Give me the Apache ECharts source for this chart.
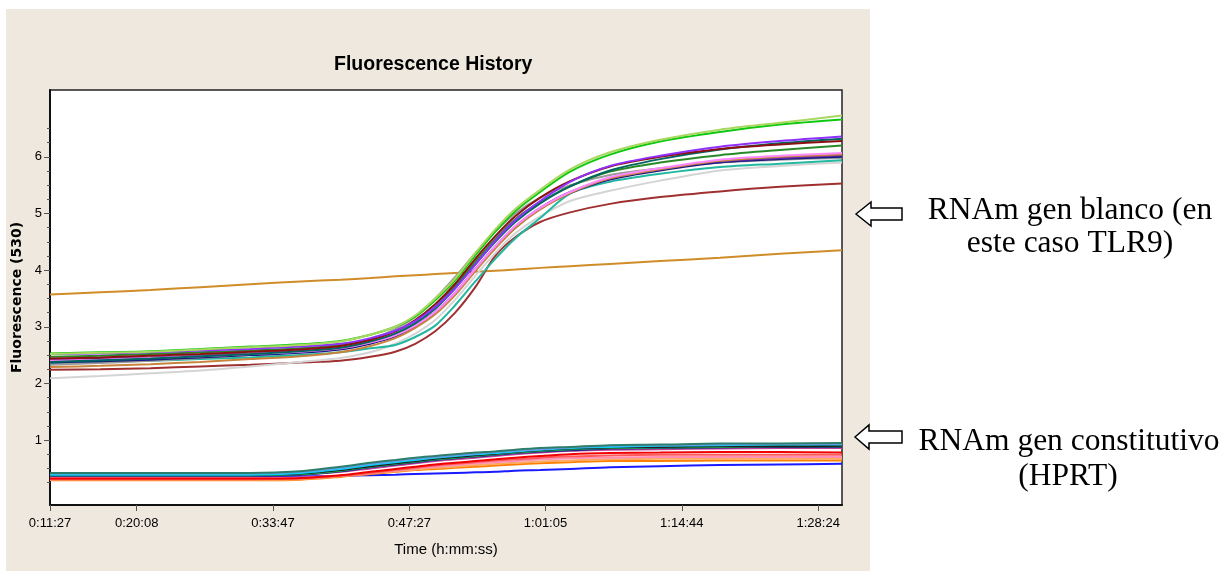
<!DOCTYPE html>
<html>
<head>
<meta charset="utf-8">
<script src="https://cdn.jsdelivr.net/npm/echarts@6/dist/echarts.min.js"></script>
<style>
  html, body { margin: 0; padding: 0; background: #fff; }
  #chart { width: 1231px; height: 571px; }
</style>
</head>
<body>
<div id="chart"></div>
<script>
// sample times (s) shared by every curve
const times = [687, 990, 1291, 1591, 1891, 2192, 2432, 2612, 2762, 2882, 3002, 3122, 3243, 3363, 3483, 3633, 3813, 4053, 4354, 4714, 5074, 5447]

// x axis tick positions (s) and y axis ticks
const xTickTimes = [687, 1208, 2027, 2847, 3665, 4484, 5304]
const yTickLabels = [1, 2, 3, 4, 5, 6]
const yMinorTicks = [0.25, 0.5, 0.75, 1, 1.25, 1.5, 1.75, 2, 2.25, 2.5, 2.75, 3, 3.25, 3.5, 3.75, 4, 4.25, 4.5, 4.75, 5, 5.25, 5.5, 5.75, 6, 6.25, 6.5]

// TLR9 (gen blanco)
const tlrLightGreen = [2.52, 2.54, 2.56, 2.6, 2.64, 2.68, 2.74, 2.86, 3.0, 3.2, 3.5, 3.85, 4.3, 4.72, 5.08, 5.42, 5.78, 6.08, 6.3, 6.48, 6.6, 6.73]
const tlrGreen = [2.53, 2.55, 2.57, 2.61, 2.65, 2.69, 2.75, 2.86, 3.0, 3.18, 3.47, 3.82, 4.26, 4.68, 5.04, 5.38, 5.74, 6.04, 6.27, 6.44, 6.57, 6.66]
const tlrPurple = [2.52, 2.53, 2.55, 2.58, 2.61, 2.65, 2.7, 2.8, 2.93, 3.1, 3.35, 3.68, 4.1, 4.52, 4.88, 5.22, 5.56, 5.84, 6.02, 6.18, 6.28, 6.36]
const tlrDarkRed = [2.44, 2.46, 2.49, 2.52, 2.56, 2.6, 2.66, 2.77, 2.92, 3.12, 3.4, 3.76, 4.2, 4.6, 4.95, 5.28, 5.57, 5.83, 6.0, 6.14, 6.22, 6.28]
const tlrDarkTeal = [2.38, 2.41, 2.44, 2.48, 2.52, 2.57, 2.63, 2.74, 2.88, 3.06, 3.32, 3.68, 4.1, 4.5, 4.85, 5.18, 5.48, 5.76, 5.96, 6.13, 6.24, 6.32]
const tlrForest = [2.47, 2.49, 2.52, 2.55, 2.58, 2.62, 2.68, 2.78, 2.92, 3.1, 3.36, 3.72, 4.15, 4.55, 4.9, 5.2, 5.48, 5.74, 5.9, 6.03, 6.12, 6.2]
const tlrPink = [2.4, 2.42, 2.45, 2.48, 2.52, 2.56, 2.62, 2.72, 2.85, 3.02, 3.26, 3.6, 4.02, 4.42, 4.78, 5.1, 5.38, 5.64, 5.8, 5.95, 6.02, 6.07]
const tlrPeru = [2.29, 2.31, 2.34, 2.38, 2.43, 2.48, 2.55, 2.66, 2.8, 2.98, 3.22, 3.56, 3.98, 4.38, 4.74, 5.07, 5.36, 5.62, 5.78, 5.93, 6.0, 6.04]
const tlrNavy = [2.37, 2.39, 2.42, 2.46, 2.5, 2.54, 2.6, 2.7, 2.83, 3.0, 3.24, 3.58, 4.0, 4.4, 4.75, 5.08, 5.36, 5.6, 5.76, 5.9, 5.96, 6.0]
const tlrViolet = [2.42, 2.44, 2.46, 2.49, 2.53, 2.57, 2.62, 2.72, 2.85, 3.02, 3.26, 3.6, 4.02, 4.42, 4.77, 5.1, 5.38, 5.62, 5.78, 5.92, 5.98, 6.03]
const tlrGray = [2.33, 2.36, 2.4, 2.45, 2.5, 2.56, 2.64, 2.78, 2.96, 3.18, 3.5, 3.88, 4.3, 4.68, 5.0, 5.28, 5.5, 5.68, 5.8, 5.9, 5.95, 5.98]
const tlrTeal = [2.36, 2.38, 2.4, 2.43, 2.46, 2.5, 2.55, 2.62, 2.68, 2.82, 3.02, 3.38, 3.8, 4.2, 4.56, 4.92, 5.35, 5.56, 5.7, 5.82, 5.88, 5.94]
const tlrLightGray = [2.09, 2.13, 2.18, 2.23, 2.3, 2.38, 2.45, 2.55, 2.7, 2.88, 3.12, 3.48, 3.9, 4.3, 4.65, 4.95, 5.22, 5.4, 5.58, 5.76, 5.84, 5.9]
const tlrBrown = [2.24, 2.25, 2.27, 2.3, 2.33, 2.37, 2.4, 2.47, 2.56, 2.7, 2.92, 3.25, 3.7, 4.25, 4.58, 4.85, 5.02, 5.17, 5.29, 5.39, 5.47, 5.53]
const tlrOrange = [3.57, 3.61, 3.65, 3.7, 3.75, 3.8, 3.83, 3.86, 3.89, 3.91, 3.93, 3.95, 3.97, 3.99, 4.01, 4.04, 4.07, 4.11, 4.16, 4.22, 4.29, 4.35]

// HPRT (gen constitutivo)
const hprtTeal = [0.42, 0.42, 0.42, 0.42, 0.42, 0.45, 0.53, 0.6, 0.65, 0.69, 0.72, 0.75, 0.78, 0.8, 0.83, 0.86, 0.88, 0.91, 0.92, 0.94, 0.94, 0.95]
const hprtCornflower = [0.41, 0.41, 0.41, 0.41, 0.41, 0.44, 0.51, 0.58, 0.63, 0.67, 0.7, 0.73, 0.76, 0.79, 0.81, 0.84, 0.87, 0.9, 0.91, 0.92, 0.93, 0.93]
const hprtCyan = [0.39, 0.39, 0.39, 0.39, 0.39, 0.42, 0.49, 0.56, 0.61, 0.65, 0.69, 0.72, 0.75, 0.77, 0.8, 0.83, 0.86, 0.88, 0.9, 0.91, 0.92, 0.92]
const hprtBlack = [0.39, 0.39, 0.39, 0.39, 0.39, 0.41, 0.47, 0.54, 0.59, 0.63, 0.67, 0.7, 0.73, 0.76, 0.79, 0.82, 0.85, 0.87, 0.88, 0.89, 0.89, 0.9]
const hprtGreen = [0.38, 0.38, 0.38, 0.38, 0.38, 0.4, 0.46, 0.53, 0.58, 0.62, 0.66, 0.69, 0.72, 0.75, 0.78, 0.81, 0.84, 0.86, 0.87, 0.88, 0.89, 0.89]
const hprtNavy = [0.37, 0.37, 0.37, 0.37, 0.37, 0.39, 0.45, 0.52, 0.57, 0.61, 0.65, 0.68, 0.71, 0.74, 0.77, 0.8, 0.82, 0.85, 0.86, 0.87, 0.88, 0.88]
const hprtMagenta = [0.37, 0.37, 0.37, 0.37, 0.37, 0.39, 0.44, 0.5, 0.55, 0.59, 0.63, 0.66, 0.69, 0.72, 0.75, 0.78, 0.81, 0.83, 0.84, 0.85, 0.86, 0.86]
const hprtRed = [0.32, 0.32, 0.32, 0.32, 0.32, 0.33, 0.38, 0.44, 0.49, 0.53, 0.57, 0.6, 0.63, 0.66, 0.69, 0.72, 0.75, 0.77, 0.78, 0.79, 0.79, 0.78]
const hprtSalmon = [0.31, 0.31, 0.31, 0.31, 0.31, 0.32, 0.37, 0.42, 0.47, 0.51, 0.55, 0.58, 0.61, 0.64, 0.66, 0.69, 0.71, 0.73, 0.74, 0.74, 0.74, 0.74]
const hprtPink = [0.33, 0.33, 0.33, 0.33, 0.33, 0.34, 0.37, 0.42, 0.46, 0.5, 0.53, 0.56, 0.59, 0.61, 0.63, 0.66, 0.68, 0.69, 0.7, 0.7, 0.7, 0.7]
const hprtLightOrange = [0.3, 0.3, 0.3, 0.3, 0.3, 0.31, 0.36, 0.41, 0.45, 0.48, 0.51, 0.53, 0.56, 0.58, 0.6, 0.62, 0.64, 0.66, 0.67, 0.67, 0.67, 0.67]
const hprtOrange = [0.29, 0.29, 0.29, 0.29, 0.29, 0.3, 0.35, 0.4, 0.44, 0.47, 0.49, 0.51, 0.53, 0.55, 0.57, 0.59, 0.61, 0.63, 0.63, 0.64, 0.64, 0.64]
const hprtBlue = [0.36, 0.36, 0.36, 0.36, 0.36, 0.36, 0.37, 0.38, 0.39, 0.4, 0.41, 0.42, 0.43, 0.44, 0.46, 0.47, 0.49, 0.52, 0.54, 0.56, 0.57, 0.58]

const curves = [
  [hprtBlue, '#1a1aff'], [hprtOrange, '#ff8000'], [hprtLightOrange, '#ffa860'],
  [hprtPink, '#ff8fb4'], [hprtSalmon, '#ff5a5a'], [hprtRed, '#f00000'],
  [hprtMagenta, '#c0409c'], [hprtNavy, '#202090'], [hprtGreen, '#20b848'],
  [hprtBlack, '#202020'], [hprtCyan, '#00d4f4'], [hprtCornflower, '#6a9cf0'],
  [hprtTeal, '#2e7f6a'],
  [tlrOrange, '#d08c28'],
  [tlrBrown, '#a03030'], [tlrLightGray, '#d4d4d4'], [tlrTeal, '#22b8a0'],
  [tlrGray, '#9a9a9a'], [tlrNavy, '#1a1a80'], [tlrViolet, '#6a28b0'],
  [tlrPeru, '#c8843c'], [tlrPink, '#ff88ff'], [tlrForest, '#2a8a2a'],
  [tlrDarkTeal, '#006660'], [tlrDarkRed, '#8c1010'], [tlrPurple, '#9030ff'],
  [tlrGreen, '#10c810'], [tlrLightGreen, '#a8d860']
]

function fmtTime(v) {
  const pad = n => (n < 10 ? '0' : '') + n
  const h = Math.floor(v / 3600)
  const m = Math.floor((v % 3600) / 60)
  const s = Math.round(v % 60)
  return h + ':' + pad(m) + ':' + pad(s)
}

const tickFont = "'Liberation Sans Narrow', 'Liberation Sans', Arial, sans-serif"
const serif = "'Liberation Serif', 'Times New Roman', serif"

const chart = echarts.init(document.getElementById('chart'))

const arrow = (pts) => ({
  type: 'polygon',
  shape: { points: pts },
  style: { fill: '#fff', stroke: '#000', lineWidth: 1.5 }
})

chart.setOption({
  animation: false,
  backgroundColor: '#fff',
  title: {
    text: 'Fluorescence History',
    left: 329,
    top: 50,
    textStyle: { fontFamily: "'Liberation Sans', Arial, sans-serif", fontWeight: 'bold', fontSize: 19.5, color: '#000' }
  },
  graphic: [
    { type: 'rect', z: -100, silent: true, shape: { x: 6, y: 9, width: 864, height: 562 }, style: { fill: '#eee8de' } },
    arrow([[856, 214], [871, 202], [871, 208], [902, 208], [902, 220], [871, 220], [871, 226]]),
    arrow([[855, 437], [869, 425], [869, 431], [902, 431], [902, 443], [869, 443], [869, 449]]),
    { type: 'text', style: { text: 'RNAm gen blanco (en', x: 1070, y: 211, align: 'center', verticalAlign: 'middle', font: '31.5px ' + serif, fill: '#000' } },
    { type: 'text', style: { text: 'este caso TLR9)', x: 1070, y: 244, align: 'center', verticalAlign: 'middle', font: '31.5px ' + serif, fill: '#000' } },
    { type: 'text', style: { text: 'RNAm gen constitutivo', x: 1069, y: 442, align: 'center', verticalAlign: 'middle', font: '31.5px ' + serif, fill: '#000' } },
    { type: 'text', style: { text: '(HPRT)', x: 1068, y: 477, align: 'center', verticalAlign: 'middle', font: '31.5px ' + serif, fill: '#000' } }
  ],
  grid: {
    left: 50, top: 90, right: 389, bottom: 66,
    show: true, backgroundColor: '#fff', borderColor: '#222', borderWidth: 1.5
  },
  xAxis: {
    type: 'value',
    min: 687,
    max: 5447,
    name: 'Time (h:mm:ss)',
    nameLocation: 'middle',
    nameGap: 37,
    nameTextStyle: { fontFamily: tickFont, fontSize: 15, color: '#000' },
    axisLine: { onZero: false, lineStyle: { color: '#111', width: 2 } },
    axisTick: { customValues: xTickTimes, length: 6, lineStyle: { color: '#555' } },
    axisLabel: { customValues: xTickTimes, formatter: fmtTime, fontFamily: tickFont, fontSize: 13, color: '#000', margin: 12 },
    splitLine: { show: false }
  },
  yAxis: [
    {
      type: 'value',
      min: -0.146,
      max: 7.18,
      name: 'Fluorescence (530)',
      nameLocation: 'middle',
      nameGap: 22,
      nameTextStyle: { fontFamily: "'DejaVu Sans', sans-serif", fontWeight: 'bold', fontSize: 14, color: '#000' },
      axisLine: { show: true, onZero: false, lineStyle: { color: '#111', width: 2 } },
      axisTick: { customValues: yTickLabels, length: 6, lineStyle: { color: '#555' } },
      axisLabel: { customValues: yTickLabels, fontFamily: tickFont, fontSize: 13, color: '#000', margin: 8 },
      splitLine: { show: false }
    },
    {
      type: 'value',
      min: -0.146,
      max: 7.18,
      position: 'left',
      axisLine: { show: false },
      axisTick: { customValues: yMinorTicks, length: 3, lineStyle: { color: '#555' } },
      axisLabel: { show: false },
      splitLine: { show: false }
    }
  ],
  series: curves.map(([vals, color]) => ({
    type: 'line',
    data: vals.map((v, i) => [times[i], v]),
    showSymbol: false,
    smooth: 0.3,
    lineStyle: { color, width: 2 },
    itemStyle: { color }
  }))
})
</script>
</body>
</html>
